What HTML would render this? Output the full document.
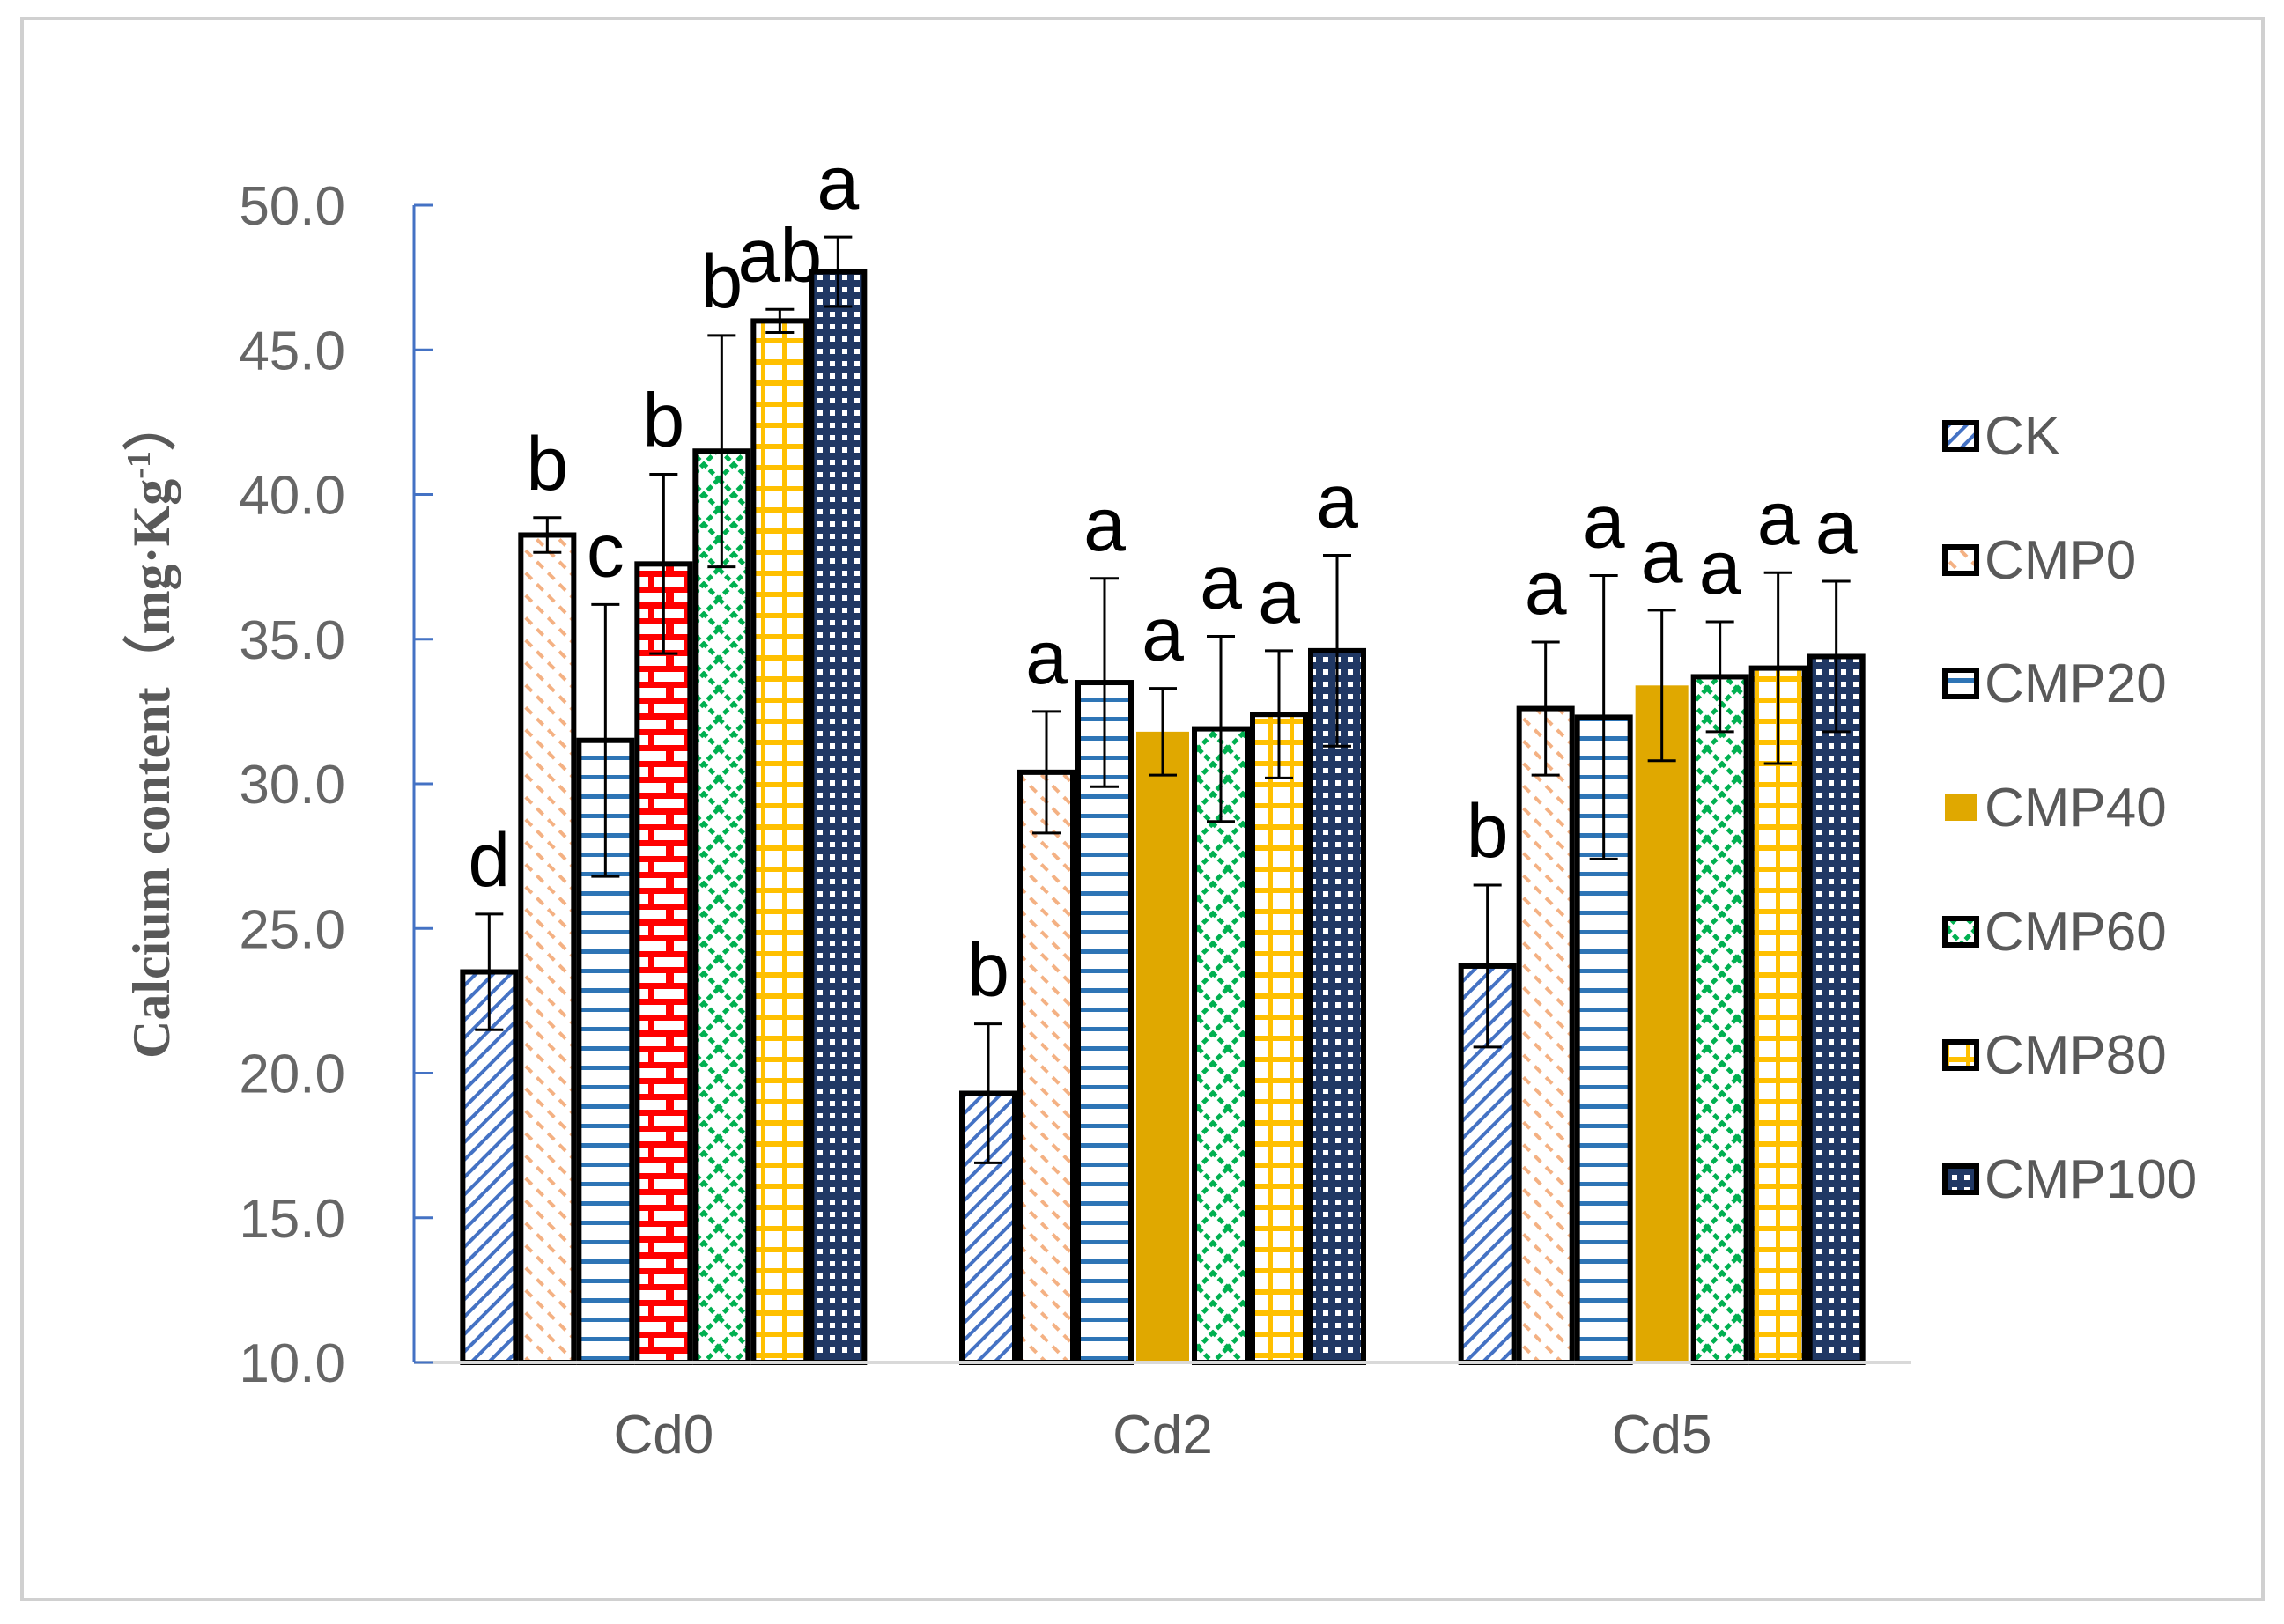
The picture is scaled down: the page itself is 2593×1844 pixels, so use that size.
<!DOCTYPE html>
<html><head><meta charset="utf-8">
<style>
html,body{margin:0;padding:0;background:#fff;}
svg{display:block;}
</style></head>
<body>
<svg id="chart" width="2593" height="1844" viewBox="0 0 2593 1844" xmlns="http://www.w3.org/2000/svg">
<defs>
 <pattern id="p-ck" width="14" height="14" patternUnits="userSpaceOnUse" patternTransform="rotate(-45)">
  <rect width="14" height="14" fill="#fff"/><rect x="0" y="0" width="14" height="4" fill="#4472C4"/></pattern>
 <pattern id="p-cmp0" width="18" height="18" patternUnits="userSpaceOnUse" patternTransform="rotate(45)">
  <rect width="18" height="18" fill="#fff"/><rect x="0" y="0" width="10" height="4" fill="#F4B183"/></pattern>
 <pattern id="p-cmp20" width="20" height="22" patternUnits="userSpaceOnUse">
  <rect width="20" height="22" fill="#fff"/><rect x="0" y="0" width="20" height="5" fill="#2E75B6"/></pattern>
 <pattern id="p-brick" width="40" height="36" patternUnits="userSpaceOnUse">
  <rect width="40" height="36" fill="#fff"/>
  <rect x="0" y="0" width="40" height="7" fill="#FF0000"/><rect x="0" y="18" width="40" height="7" fill="#FF0000"/>
  <rect x="16" y="0" width="7" height="18" fill="#FF0000"/><rect x="0" y="18" width="5" height="18" fill="#FF0000"/><rect x="36" y="18" width="4" height="18" fill="#FF0000"/></pattern>
 <pattern id="p-cmp60" width="34" height="34" patternUnits="userSpaceOnUse">
  <rect width="34" height="34" fill="#fff"/>
  <path d="M0 0 L34 34 M34 0 L0 34" stroke="#00B050" stroke-width="5" stroke-dasharray="7 4"/></pattern>
 <pattern id="p-cmp80" width="24" height="24" patternUnits="userSpaceOnUse">
  <rect width="24" height="24" fill="#fff"/><rect x="0" y="0" width="24" height="6" fill="#FFC000"/><rect x="0" y="0" width="5" height="24" fill="#FFC000"/></pattern>
 <pattern id="p-cmp100" width="14" height="14" patternUnits="userSpaceOnUse">
  <rect width="14" height="14" fill="#203864"/><rect x="4" y="4" width="6" height="6" fill="#fff"/></pattern>
</defs>
<rect x="25" y="21" width="2544" height="1795" fill="#fff" stroke="#d0d0d0" stroke-width="4"/>
<g id="plot"></g>
</svg>
<script>
const categories = ["Cd0","Cd2","Cd5"];
const seriesNames = ["CK","CMP0","CMP20","CMP40","CMP60","CMP80","CMP100"];
const valuesCK     = [23.5, 19.3, 23.7];
const valuesCMP0   = [38.6, 30.4, 32.6];
const valuesCMP20  = [31.5, 33.5, 32.3];
const valuesCMP40  = [37.6, 31.8, 33.4];
const valuesCMP60  = [41.5, 31.9, 33.7];
const valuesCMP80  = [46.0, 32.4, 34.0];
const valuesCMP100 = [47.7, 34.6, 34.4];
const errCK     = [2.0, 2.4, 2.8];
const errCMP0   = [0.6, 2.1, 2.3];
const errCMP20  = [4.7, 3.6, 4.9];
const errCMP40  = [3.1, 1.5, 2.6];
const errCMP60  = [4.0, 3.2, 1.9];
const errCMP80  = [0.4, 2.2, 3.3];
const errCMP100 = [1.2, 3.3, 2.6];
const lettersCK     = ["d","b","b"];
const lettersCMP0   = ["b","a","a"];
const lettersCMP20  = ["c","a","a"];
const lettersCMP40  = ["b","a","a"];
const lettersCMP60  = ["b","a","a"];
const lettersCMP80  = ["ab","a","a"];
const lettersCMP100 = ["a","a","a"];
const yTicks = [10,15,20,25,30,35,40,45,50];

const allVals = [valuesCK,valuesCMP0,valuesCMP20,valuesCMP40,valuesCMP60,valuesCMP80,valuesCMP100];
const allErr = [errCK,errCMP0,errCMP20,errCMP40,errCMP60,errCMP80,errCMP100];
const allLet = [lettersCK,lettersCMP0,lettersCMP20,lettersCMP40,lettersCMP60,lettersCMP80,lettersCMP100];
const fills = ["url(#p-ck)","url(#p-cmp0)","url(#p-cmp20)","#E0A800","url(#p-cmp60)","url(#p-cmp80)","url(#p-cmp100)"];

const NS="http://www.w3.org/2000/svg";
const g=document.getElementById('plot');
const X0=470, X1=2170, Y0=1547, Y1=233, YMIN=10, YMAX=50;
const y = v => Y0 - (v-YMIN)/(YMAX-YMIN)*(Y0-Y1);
const catW=(X1-X0)/categories.length, barW=66;
const xBar=(ci,si)=> X0+catW*(ci+0.5) - barW*seriesNames.length/2 + si*barW;
function el(t,a){const e=document.createElementNS(NS,t);for(const k in a)e.setAttribute(k,a[k]);g.appendChild(e);return e;}
function txt(s,a){const e=el('text',a);e.textContent=s;return e;}

categories.forEach((c,ci)=>{
 seriesNames.forEach((s,si)=>{
  const v=allVals[si][ci], x=xBar(ci,si);
  let f=fills[si], stroke="#000";
  if(si===3 && ci===0){f="url(#p-brick)";}
  else if(si===3){stroke="none";}
  const r=el('rect',{x:x+3,y:y(v),width:barW-6,height:Y0-y(v),fill:f,stroke:stroke,'stroke-width':6});
  
  
  const e=allErr[si][ci], cx=x+barW/2;
  const eb=el('path',{d:`M${cx} ${y(v+e)}V${y(v-e)}M${cx-16} ${y(v+e)}H${cx+16}M${cx-16} ${y(v-e)}H${cx+16}`,stroke:'#000','stroke-width':3,fill:'none'});
  
  
  const l=txt(allLet[si][ci],{x:cx,y:y(v+e)-32,'text-anchor':'middle','font-family':'Liberation Sans, sans-serif','font-size':86,fill:'#000'});
  
  
 });
 const cl=txt(c,{x:X0+catW*(ci+0.5),y:1650,'text-anchor':'middle','font-family':'Liberation Sans, sans-serif','font-size':62,fill:'#595959'});
 
 
});
const xa=el('line',{x1:X0,y1:Y0,x2:X1,y2:Y0,stroke:'#d9d9d9','stroke-width':4});


const ya=el('line',{x1:X0,y1:Y1,x2:X0,y2:Y0,stroke:'#4472C4','stroke-width':3});


yTicks.forEach(t=>{
 const tk=el('line',{x1:X0,y1:y(t),x2:X0+22,y2:y(t),stroke:'#4472C4','stroke-width':3});
 
 
 const tl=txt(t.toFixed(1),{x:392,y:y(t)+22,'text-anchor':'end','font-family':'Liberation Sans, sans-serif','font-size':62,fill:'#666'});
 
 
});
const yt=txt('',{transform:'translate(192,827) rotate(-90)','text-anchor':'middle','font-family':'Liberation Serif, serif','font-size':60,'font-weight':'bold',fill:'#595959'});
yt.innerHTML='Calcium content（mg·Kg<tspan dy="-22" font-size="38">-1</tspan><tspan dy="22">）</tspan>';


const legY=[512,653,793,934,1075,1215,1356];
seriesNames.forEach((s,si)=>{
 const ly=legY[si];
 const sw=el('rect',{x:2208,y:ly-32,width:36,height:30,fill:fills[si],stroke:si===3?'none':'#000','stroke-width':si===3?0:6});
 
 
 const lt=txt(s,{x:2253,y:ly+4,'font-family':'Liberation Sans, sans-serif','font-size':62,fill:'#595959'});
 
 
});
</script>
</body></html>
